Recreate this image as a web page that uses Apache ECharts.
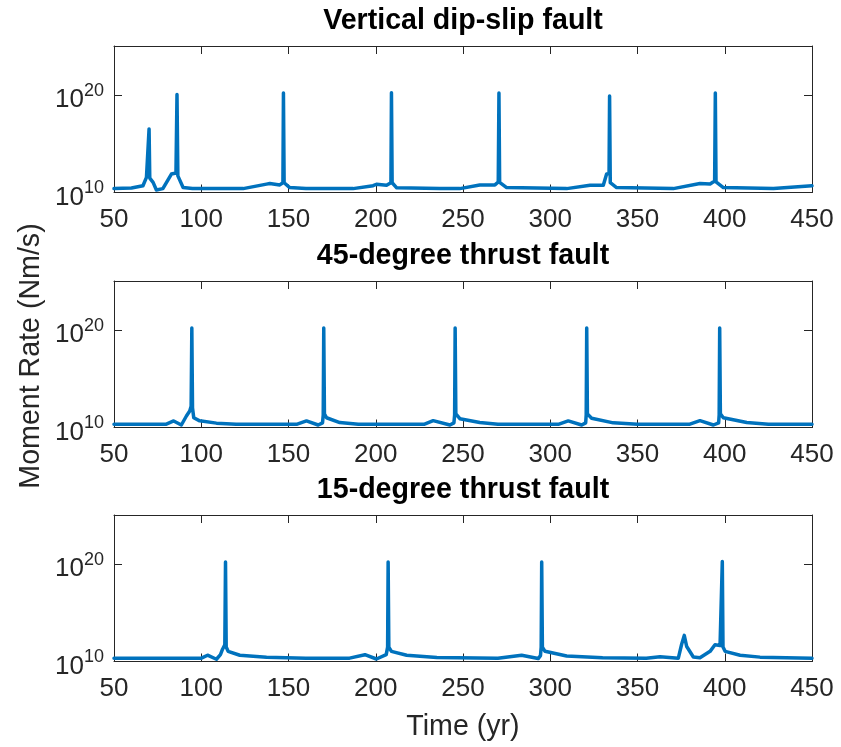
<!DOCTYPE html>
<html>
<head>
<meta charset="utf-8">
<script src="https://cdn.jsdelivr.net/npm/echarts@6/dist/echarts.min.js"></script>
<style>html,body{margin:0;padding:0;background:#fff}#c{width:841px;height:747px}</style>
</head>
<body>
<div id="c"></div>
<script>
// ---- data (time in yr, moment rate in Nm/s) ----
const titles = ['Vertical dip-slip fault', '45-degree thrust fault', '15-degree thrust fault'];
const xTicks = [50, 100, 150, 200, 250, 300, 350, 400, 450];
const yLabelExponents = [10, 20];

const time1 = [50, 60, 66.6, 68.6, 69.7, 70.1, 70.5, 72.4, 74.3, 78, 82.9, 85.5, 86.1, 86.6, 89.6, 95, 124, 137.4, 139.3, 145, 146.8, 147.1, 147.5, 150.7, 160, 187, 198.5, 200.4, 206.2, 208.7, 209, 209.4, 212, 236.8, 248.2, 259.6, 268.3, 270.2, 270.6, 271.0, 275, 309.4, 322.8, 330.4, 332.3, 333.7, 334, 334.4, 338, 370.5, 385.8, 391.6, 394.2, 394.6, 395.0, 399.2, 427.9, 450];
const rate1 = [2.5e10, 2.9e10, 4.9e10, 3.5e11, 5e11, 3.2e16, 3e11, 1.1e11, 1.8e10, 2.5e10, 7.8e11, 1e12, 1.1e20, 5e11, 3.2e10, 2.5e10, 2.5e10, 7.2e10, 8.5e10, 6e10, 1e11, 1.5e20, 1e11, 3.2e10, 2.5e10, 2.5e10, 5e10, 7e10, 5.5e10, 1e11, 1.6e20, 1e11, 3e10, 2.5e10, 2.5e10, 5.8e10, 6e10, 1.2e11, 1.5e20, 1.1e11, 3.2e10, 2.5e10, 5.5e10, 5.5e10, 7.8e11, 9e11, 7.4e19, 1e11, 3.2e10, 2.5e10, 8.5e10, 7.5e10, 1.5e11, 1.5e20, 1.2e11, 3.2e10, 2.5e10, 4.9e10];

const time2 = [50, 80, 84.2, 88.6, 91.5, 93.4, 94.2, 94.6, 95.0, 95.7, 99.1, 108.7, 120, 155, 160.3, 167, 169.5, 169.9, 170.2, 170.6, 171.8, 179.4, 190, 228, 232.9, 242.5, 244.8, 245.2, 245.5, 245.9, 248.2, 259.6, 270, 305, 310.3, 318, 320.3, 320.6, 320.9, 321.3, 323.7, 336.1, 350, 380, 385.8, 393.5, 396.5, 396.8, 397.1, 397.5, 399.2, 412.6, 425, 450];
const rate2 = [2.2e10, 2.2e10, 4.7e10, 1.8e10, 1.5e11, 4.9e11, 1.5e12, 1.5e20, 1e12, 1e11, 4.8e10, 2.8e10, 2.2e10, 2.2e10, 4.7e10, 1.8e10, 3e10, 2e11, 1.5e20, 2.5e11, 1e11, 3.2e10, 2.2e10, 2.2e10, 5e10, 1.8e10, 3e10, 2e11, 1.5e20, 2.5e11, 8e10, 3.2e10, 2.2e10, 2.2e10, 4.7e10, 1.8e10, 3e10, 2e11, 1.5e20, 2.5e11, 9e10, 3e10, 2.2e10, 2.2e10, 5e10, 1.8e10, 3e10, 2e11, 1.5e20, 2.5e11, 1e11, 3.2e10, 2.2e10, 2.2e10];

const time3 = [50, 100.1, 103.6, 108.7, 111, 112.2, 113.5, 113.9, 114.3, 115.4, 122.1, 137.4, 160, 185, 193.8, 200.4, 206.0, 206.8, 207.1, 207.5, 209, 217.7, 235, 270, 283.6, 293.1, 294.4, 294.8, 295.1, 295.5, 297, 309.4, 330, 355, 362.9, 373.4, 375.3, 376.8, 378.2, 382, 385.8, 391.6, 394.4, 397.3, 398.2, 398.6, 399.0, 400.2, 408.8, 420.2, 450];
const rate3 = [2.2e10, 2.2e10, 4.4e10, 1.7e10, 5e10, 1.8e11, 5e11, 1.5e20, 3e11, 1.1e11, 4.4e10, 2.8e10, 2.2e10, 2.2e10, 5e10, 1.8e10, 5e10, 3e11, 1.5e20, 3e11, 1.1e11, 4.4e10, 2.5e10, 2.2e10, 4.4e10, 2e10, 4e10, 3e11, 1.5e20, 3e11, 1.1e11, 3.7e10, 2.4e10, 2.2e10, 3e10, 2.2e10, 5.8e11, 4.7e12, 3.4e11, 2.9e10, 2.4e10, 1.1e11, 5.1e11, 4.4e11, 6e11, 1.7e20, 3e11, 1.1e11, 4.4e10, 2.8e10, 2.2e10];

const times = [time1, time2, time3];
const rates = [rate1, rate2, rate3];

// ---- layout ----
const gridTops = [46, 281, 515];
const gridH = 146.5;
const gridLeft = 114, gridW = 698;
const axisColor = '#262626';
const lineColor = '#0072BD';
const FONT = 'Liberation Sans, Arial, Helvetica, sans-serif';

const chart = echarts.init(document.getElementById('c'), null, {renderer: 'canvas'});

const grids = [], xAxes = [], yAxes = [], series = [], graphics = [];
for (let i = 0; i < 3; i++) {
  grids.push({left: gridLeft, top: gridTops[i], width: gridW, height: gridH, containLabel: false});
  const xBase = {
    type: 'value', gridIndex: i, min: 50, max: 450, interval: 50,
    axisLine: {show: true, onZero: false, lineStyle: {color: axisColor, width: 1}},
    axisTick: {show: true, inside: true, length: 8, lineStyle: {color: axisColor, width: 1}},
    splitLine: {show: false}
  };
  xAxes.push(Object.assign({}, xBase, {
    position: 'bottom',
    axisLabel: {show: true, color: axisColor, fontSize: 26, fontFamily: FONT, margin: 14,
      formatter: v => xTicks.includes(v) ? String(v) : ''}
  }));
  xAxes.push(Object.assign({}, xBase, {position: 'top', axisLabel: {show: false}}));
  const yBase = {
    type: 'log', logBase: 10, gridIndex: i, min: 1e10, max: 1e25, splitNumber: 3,
    axisLine: {show: true, onZero: false, lineStyle: {color: axisColor, width: 1}},
    axisTick: {show: true, inside: true, length: 8, lineStyle: {color: axisColor, width: 1}},
    splitLine: {show: false}
  };
  yAxes.push(Object.assign({}, yBase, {
    position: 'left',
    axisLabel: {show: true, color: axisColor, fontFamily: FONT, margin: 10,
      formatter: v => {
        const e = Math.round(Math.log10(v));
        return yLabelExponents.includes(e) ? '{b|10}{s|' + e + '}' : '';
      },
      rich: {
        b: {fontSize: 26, fontFamily: FONT, color: axisColor, lineHeight: 36, verticalAlign: 'bottom'},
        s: {fontSize: 18, fontFamily: FONT, color: axisColor, verticalAlign: 'top', padding: [5, 0, 0, 0]}
      }}
  }));
  yAxes.push(Object.assign({}, yBase, {position: 'right', axisLabel: {show: false}}));
  series.push({
    type: 'line', xAxisIndex: 2 * i, yAxisIndex: 2 * i,
    data: times[i].map((t, k) => [t, rates[i][k]]),
    showSymbol: false, symbol: 'none', smooth: false,
    lineStyle: {color: lineColor, width: 3.5, join: 'round', cap: 'round'},
    animation: false
  });
  graphics.push({type: 'text', x: gridLeft + gridW / 2, y: gridTops[i] - 25,
    style: {text: titles[i], fill: '#000', font: 'bold 28.6px ' + FONT, textAlign: 'center', textVerticalAlign: 'middle'}});
}

graphics.push(
  {type: 'text', x: 31, y: 356, rotation: Math.PI / 2,
    style: {text: 'Moment Rate (Nm/s)', fill: axisColor, font: '28.6px ' + FONT, textAlign: 'center', textVerticalAlign: 'middle'}},
  {type: 'text', x: 463, y: 727,
    style: {text: 'Time (yr)', fill: axisColor, font: '28.6px ' + FONT, textAlign: 'center', textVerticalAlign: 'middle'}}
);

chart.setOption({
  animation: false,
  backgroundColor: '#fff',
  grid: grids,
  xAxis: xAxes,
  yAxis: yAxes,
  series: series,
  graphic: graphics
});
</script>
</body>
</html>
